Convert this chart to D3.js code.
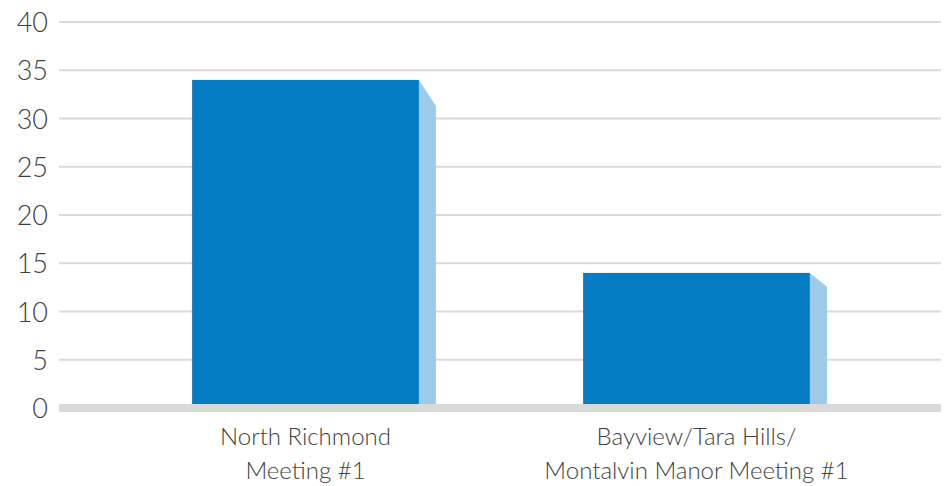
<!DOCTYPE html>
<html>
<head>
<meta charset="utf-8">
<script src="https://cdn.jsdelivr.net/npm/d3@7"></script>
<style>
  body { margin: 0; background: #fff; }
  svg text { font-family: Lato, "Open Sans", sans-serif; font-weight: 300; fill: #3f3f3f; }
</style>
</head>
<body>
<div id="wrapper"></div>
<script>
// data
const categories = ["North Richmond Meeting #1", "Bayview/Tara Hills/ Montalvin Manor Meeting #1"];
const labelLines = [["North Richmond", "Meeting #1"], ["Bayview/Tara Hills/", "Montalvin Manor Meeting #1"]];
const values = [34, 14];
const yTicks = [0, 5, 10, 15, 20, 25, 30, 35, 40];

function draw() {
  const width = 947;
  const height = 486;

  const svg = d3.select("#wrapper")
    .append("svg")
      .attr("width", width)
      .attr("height", height);

  const gridLeft = 59;
  const gridRight = 941;

  const y = d3.scaleLinear()
    .domain([0, 40])
    .range([408, 22]);

  const x = d3.scaleBand()
    .domain(categories)
    .range([110, 892])
    .padding(0);

  const barW = x.bandwidth() * 0.58;
  const depth = 17;

  // gridlines
  svg.append("g")
    .selectAll("line")
    .data(yTicks.filter(d => d > 0))
    .enter()
    .append("line")
      .attr("x1", gridLeft)
      .attr("x2", gridRight)
      .attr("y1", d => y(d))
      .attr("y2", d => y(d))
      .attr("stroke", "#d9d9d9")
      .attr("stroke-width", 2);

  // y axis labels
  const yAxis = d3.axisLeft(y).tickValues(yTicks).tickSize(0).tickPadding(0);
  const gy = svg.append("g")
    .attr("transform", "translate(48,0)")
    .call(yAxis);
  gy.select(".domain").remove();
  gy.selectAll("text")
    .attr("font-size", 27)
    .attr("font-family", null)
    .attr("fill", null)
    .attr("dy", "0.36em");

  // bars
  const bars = svg.append("g")
    .selectAll("g")
    .data(categories)
    .enter()
    .append("g");

  bars.append("path")
    .attr("fill", "#9ccae8")
    .attr("d", (d, i) => {
      const x0 = x(d) + (x.bandwidth() - barW) / 2 + barW;
      const top = y(values[i]);
      const drop = 5.5 + 0.0625 * (y(0) - top);
      return "M" + x0 + "," + top + "L" + (x0 + depth) + "," + (top + drop) +
        "L" + (x0 + depth) + "," + y(0) + "L" + x0 + "," + y(0) + "Z";
    });

  bars.append("rect")
    .attr("x", d => x(d) + (x.bandwidth() - barW) / 2)
    .attr("y", (d, i) => y(values[i]))
    .attr("width", barW)
    .attr("height", (d, i) => y(0) - y(values[i]))
    .attr("fill", "#047cc4");

  // floor
  svg.append("rect")
    .attr("x", gridLeft)
    .attr("y", y(0) - 4)
    .attr("width", gridRight - gridLeft)
    .attr("height", 8)
    .attr("fill", "#d9d9d9");

  // category labels
  const labels = svg.append("g")
    .selectAll("text")
    .data(categories)
    .enter()
    .append("text")
      .attr("text-anchor", "middle")
      .attr("font-size", 24)
      .attr("x", d => x(d) + x.bandwidth() / 2)
      .attr("y", 445);

  labels.selectAll("tspan")
    .data((d, i) => labelLines[i])
    .enter()
    .append("tspan")
      .attr("x", function() { return this.parentNode.getAttribute("x"); })
      .attr("dy", (d, i) => i === 0 ? 0 : 34)
      .text(d => d);
}
draw();
</script>
</body>
</html>
